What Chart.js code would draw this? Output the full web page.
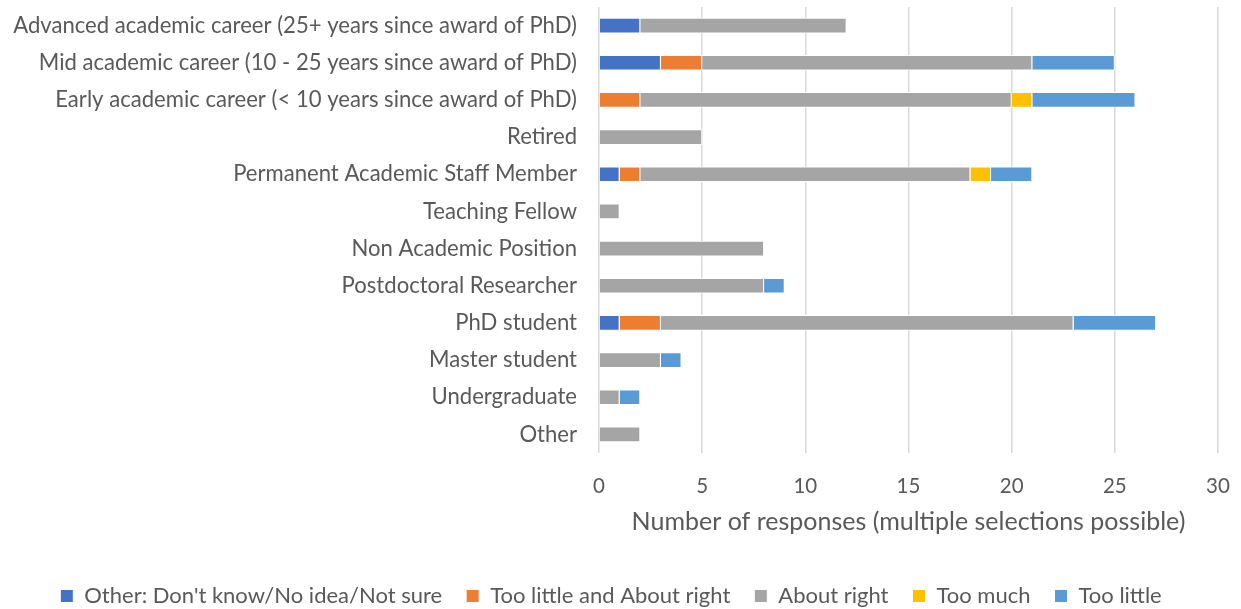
<!DOCTYPE html>
<html lang="en">
<head>
<meta charset="UTF-8">
<title>Responses by career stage</title>
<script src="https://cdn.jsdelivr.net/npm/chart.js"></script>
<style>
  html,body{margin:0;padding:0;background:#fff}
  #wrap{width:1241px;height:609px}
</style>
</head>
<body>
<div id="wrap"><canvas id="chart"></canvas></div>
<script>
const categories=[
  'Advanced academic career (25+ years since award of PhD)',
  'Mid academic career (10 - 25 years since award of PhD)',
  'Early academic career (< 10 years since award of PhD)',
  'Retired',
  'Permanent Academic Staff Member',
  'Teaching Fellow',
  'Non Academic Position',
  'Postdoctoral Researcher',
  'PhD student',
  'Master student',
  'Undergraduate',
  'Other'
];
const otherDontKnow=[2,3,0,0,1,0,0,0,1,0,0,0];
const tooLittleAndAboutRight=[0,2,2,0,1,0,0,0,2,0,0,0];
const aboutRight=[10,16,18,5,16,1,8,8,20,3,1,2];
const tooMuch=[0,0,1,0,1,0,0,0,0,0,0,0];
const tooLittle=[0,4,5,0,2,0,0,1,4,1,1,0];
const xTicks=[0,5,10,15,20,25,30];

const font="Lato, 'Open Sans', sans-serif";
const textCol='#595959';

function ds(label,data,color){
  return {label,data,backgroundColor:color,borderColor:'#ffffff',borderWidth:1,
    categoryPercentage:0.42,barPercentage:1};
}

new Chart(document.getElementById('chart'),{
  type:'bar',
  data:{
    labels:categories,
    datasets:[
      ds("Other: Don't know/No idea/Not sure",otherDontKnow,'#4472C4'),
      ds('Too little and About right',tooLittleAndAboutRight,'#ED7D31'),
      ds('About right',aboutRight,'#A5A5A5'),
      ds('Too much',tooMuch,'#FFC000'),
      ds('Too little',tooLittle,'#5B9BD5')
    ]
  },
  options:{
    indexAxis:'y',
    responsive:true,
    maintainAspectRatio:false,
    animation:false,
    layout:{padding:{left:4,right:23,top:7,bottom:-8}},
    plugins:{
      legend:{position:'bottom',
        labels:{font:{family:font,size:22},color:textCol,boxWidth:13,boxHeight:13,padding:24}},
      tooltip:{enabled:false}
    },
    scales:{
      x:{stacked:true,min:0,max:30,
        afterBuildTicks:ax=>{ax.ticks=xTicks.map(v=>({value:v}));},
        afterFit:s=>{s.height=108;s.paddingLeft=0;s.paddingRight=0;},
        grid:{color:'#D9D9D9',lineWidth:1.5,drawTicks:false},
        border:{display:false},
        ticks:{font:{family:font,size:20.5},color:textCol,padding:21},
        title:{display:true,text:'Number of responses (multiple selections possible)',
          font:{family:font,size:25},color:textCol,padding:{top:0,bottom:24}}
      },
      y:{stacked:true,
        grid:{display:false,drawTicks:false},
        border:{display:false},
        afterFit:s=>{s.paddingTop=0;s.paddingBottom=0;s.width=595;},
        ticks:{font:{family:font,size:22.1},color:textCol,padding:22,autoSkip:false}
      }
    }
  }
});
</script>
</body>
</html>
